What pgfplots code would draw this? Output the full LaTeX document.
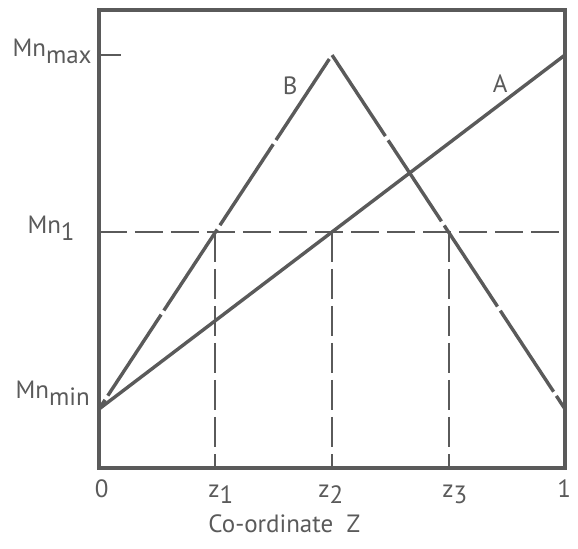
\documentclass[border=0pt]{standalone}
\usepackage{pgfplots}
\pgfplotsset{compat=1.18}
\usepackage{fontspec}
\setmainfont{PT Sans}
\definecolor{ink}{RGB}{90,90,90}
\newcommand{\sub}[1]{\raisebox{-0.6ex}{#1}}
\newcommand{\zsub}[1]{\raisebox{-0.45ex}{#1}}
\begin{document}
\fontsize{12.5}{15}\selectfont
\begin{tikzpicture}
\useasboundingbox (-49.5pt,-40.5pt) rectangle (239.5pt,234pt);
\begin{axis}[
  scale only axis, width=233pt, height=229pt,
  xmin=0, xmax=1, ymin=0.667, ymax=3.254,
  xtick=\empty, ytick={3}, yticklabels={}, ytick pos=left,
  tick align=inside, major tick length=11pt,
  tick style={ink, line width=1pt},
  axis line style={ink, line width=1.9pt},
  clip=false,
]
\addplot[ink, line width=1pt, dash pattern=on 14pt off 4pt] coordinates {(0,2) (1,2)};
\addplot[ink, line width=1pt, dash pattern=on 15pt off 3.5pt] coordinates {(0.25,2) (0.25,0.667)};
\addplot[ink, line width=1pt, dash pattern=on 15pt off 3.5pt] coordinates {(0.5,2) (0.5,0.667)};
\addplot[ink, line width=1pt, dash pattern=on 15pt off 3.5pt] coordinates {(0.75,2) (0.75,0.667)};
\addplot[ink, line width=1.7pt] coordinates {(0,1) (1,3)};
\addplot[ink, line width=1.7pt, dash pattern=on 48.5pt off 2.5pt, dash phase=43pt] coordinates {(0,1) (0.5,3) (1,1)};

\node[anchor=base east, text=ink, inner sep=0pt] at (axis cs:-0.015,2.994) {Mn\sub{max}};
\node[anchor=base east, text=ink, inner sep=0pt] at (axis cs:-0.0515,1.994) {Mn\sub{1}};
\node[anchor=base east, text=ink, inner sep=0pt] at (axis cs:-0.019,1.062) {Mn\sub{min}};
\node[anchor=base, text=ink] at (axis cs:0.861,2.79) {A};
\node[anchor=base, text=ink] at (axis cs:0.41,2.774) {B};
\node[anchor=base, text=ink] at (axis cs:0.006,0.50) {0};
\node[anchor=base west, text=ink, inner sep=0pt] at (axis cs:0.234,0.50) {z\zsub{1}};
\node[anchor=base west, text=ink, inner sep=0pt] at (axis cs:0.470,0.50) {z\zsub{2}};
\node[anchor=base west, text=ink, inner sep=0pt] at (axis cs:0.736,0.50) {z\zsub{3}};
\node[anchor=base, text=ink] at (axis cs:0.998,0.50) {1};
\node[anchor=base west, text=ink, inner sep=0pt] at (axis cs:0.234,0.305) {Co-ordinate\ \ Z};
\end{axis}
\end{tikzpicture}
\end{document}
